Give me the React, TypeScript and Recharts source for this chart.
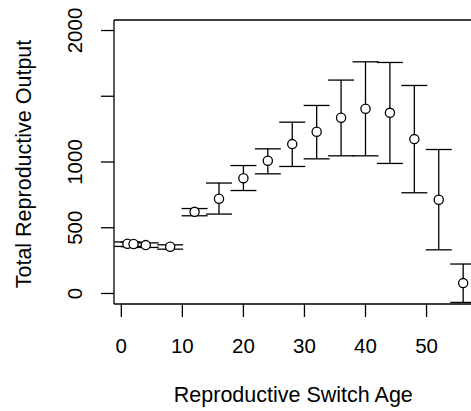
import { ScatterChart, Scatter, XAxis, YAxis, ErrorBar, ReferenceLine, Label } from "recharts"

// values
const ages = [1, 2, 4, 8, 12, 16, 20, 24, 28, 32, 36, 40, 44, 48, 52, 56]
const output = [378, 376, 368, 355, 621, 720, 877, 1009, 1136, 1230, 1336, 1405, 1374, 1174, 713, 79]
const lower = [358, 356, 350, 337, 591, 604, 783, 910, 966, 1024, 1047, 1047, 989, 766, 332, -68]
const upper = [392, 390, 385, 370, 646, 840, 973, 1100, 1303, 1430, 1623, 1762, 1757, 1582, 1095, 224]

const xTicks = [0, 10, 20, 30, 40, 50]
const yTicks = [0, 500, 1000, 1500, 2000]
const yTickLabels = ["0", "500", "1000", "", "2000"]

const font = "'Liberation Sans', Arial, Helvetica, sans-serif"

const data = ages.map((a, i) => ({
  age: a,
  y: output[i],
  err: [output[i] - lower[i], upper[i] - output[i]],
}))

const Dot = (p: any) => (
  <circle cx={p.cx} cy={p.cy} r={4.6} fill="#fff" stroke="#000" strokeWidth={1.3} />
)

const XTick = ({ x, y, payload }: any) => (
  <text x={x} y={y + 34} textAnchor="middle" fontSize={20.5} fontFamily={font} fill="#000">
    {payload.value}
  </text>
)

const YTick = ({ x, y, payload }: any) => {
  const label = yTickLabels[yTicks.indexOf(payload.value)]
  if (!label) return <g />
  return (
    <text
      transform={`translate(${x - 17},${y}) rotate(-90)`}
      textAnchor="middle"
      fontSize={20.5}
      fontFamily={font}
      fill="#000"
    >
      {label}
    </text>
  )
}

export default function App() {
  return (
    <div style={{ width: 471, height: 411, overflow: "hidden", background: "#fff" }}>
      <style>{`body{margin:0}`}</style>
      <ScatterChart width={480} height={411} margin={{ top: 20, right: 3.4, bottom: 0, left: 0 }}>
        <XAxis
          type="number"
          dataKey="age"
          domain={[-1.2, 58.2]}
          allowDataOverflow
          ticks={xTicks}
          tick={<XTick />}
          tickSize={13}
          height={107}
          stroke="#000"
          strokeWidth={1.3}
        >
          <Label
            content={(p: any) => (
              <text
                x={p.viewBox.x + p.viewBox.width / 2 - 2}
                y={402}
                textAnchor="middle"
                fontSize={21.5}
                fontFamily={font}
                fill="#000"
              >
                Reproductive Switch Age
              </text>
            )}
          />
        </XAxis>
        <YAxis
          type="number"
          dataKey="y"
          domain={[-80, 2080]}
          allowDataOverflow
          ticks={yTicks}
          tick={<YTick />}
          tickSize={13}
          width={114}
          stroke="#000"
          strokeWidth={1.3}
        >
          <Label
            content={(p: any) => (
              <text
                transform={`translate(31,${p.viewBox.y + p.viewBox.height / 2 + 2}) rotate(-90)`}
                textAnchor="middle"
                fontSize={21.5}
                fontFamily={font}
                fill="#000"
              >
                Total Reproductive Output
              </text>
            )}
          />
        </YAxis>
        <ReferenceLine y={2080} stroke="#000" strokeWidth={1.3} />
        <Scatter data={data} shape={Dot} isAnimationActive={false}>
          <ErrorBar dataKey="err" direction="y" width={13} stroke="#000" strokeWidth={1.3} />
        </Scatter>
      </ScatterChart>
    </div>
  )
}
